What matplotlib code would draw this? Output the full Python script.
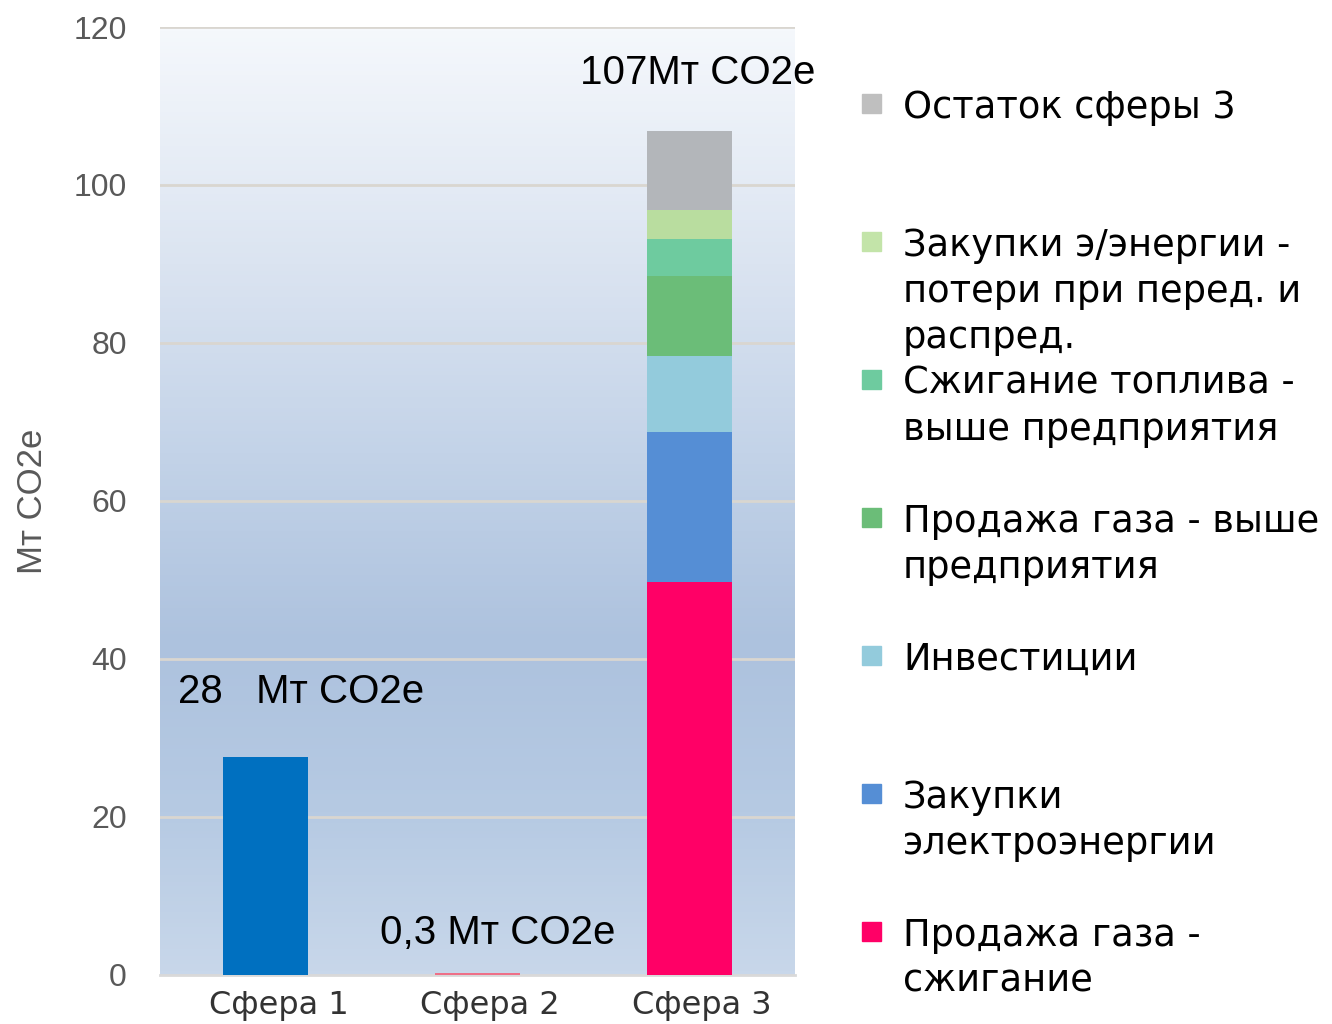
import matplotlib.pyplot as plt
import numpy as np
from matplotlib.colors import LinearSegmentedColormap
from matplotlib.patches import Rectangle

categories = ['Сфера 1', 'Сфера 2', 'Сфера 3']
scope1_value = 27.6
scope2_value = 0.3
scope3_parts = ['Продажа газа -\nсжигание',
                'Закупки\nэлектроэнергии',
                'Инвестиции',
                'Продажа газа - выше\nпредприятия',
                'Сжигание топлива -\nвыше предприятия',
                'Закупки э/энергии -\nпотери при перед. и\nраспред.',
                'Остаток сферы 3']
scope3_values = [49.7, 19.0, 9.7, 10.1, 4.7, 3.6, 10.0]
scope3_colors = ['#ff0066', '#558ed5', '#93cbdc', '#6bbd78', '#6ecb9f', '#b9dd9f', '#b3b6ba']
legend_colors = ['#ff0066', '#558ed5', '#93cbdc', '#6bbd78', '#6ecb9f', '#c3e4a9', '#bfbfbf']
bar_labels = ['28   Мт CO2e', '0,3 Мт CO2e', '107Мт CO2e']
yticks = [0, 20, 40, 60, 80, 100, 120]

W, H = 1332, 1024
fig = plt.figure(figsize=(W / 100, H / 100), dpi=100)
ax = fig.add_axes([160 / W, 1 - 975 / H, 635 / W, 948 / H])

# background gradient of the plot area
bg = LinearSegmentedColormap.from_list('bg', [
    (0.0, '#c8d7ea'), (0.17, '#b6cae3'), (0.35, '#adc2de'),
    (0.55, '#c3d3e8'), (0.75, '#dbe4f1'), (1.0, '#f5f8fc')])
grad = np.linspace(0, 1, 256).reshape(-1, 1)
ax.imshow(grad, extent=[-0.5, 2.5, 0, 120], aspect='auto', cmap=bg,
          origin='lower', zorder=0)

for t in yticks[1:]:
    ax.axhline(t, color='#d9d6d0', lw=2, zorder=1)

x = np.arange(len(categories))
ax.bar(x[0], scope1_value, width=0.4, color='#0070c0', zorder=3)
ax.bar(x[1], scope2_value, width=0.4, color='#ee7088', zorder=3)
bottom = 0
for v, c in zip(scope3_values, scope3_colors):
    ax.bar(x[2], v, width=0.4, bottom=bottom, color=c, zorder=3)
    bottom += v

ax.set_xlim(-0.5, 2.5)
ax.set_ylim(0, 120)
# category labels sit a little right of the bar centres, as in the original
ax.set_xticks(x + 0.06)
ax.set_xticklabels(categories, fontsize=23, color='#333333', family='DejaVu Sans')
ax.set_yticks(yticks)
ax.set_yticklabels([str(t) for t in yticks], fontsize=23, color='#595959',
                   family='Liberation Sans')
ax.tick_params(axis='both', length=0)
ax.tick_params(axis='y', pad=24)
ax.tick_params(axis='x', pad=11)
for s in ['left', 'right', 'top']:
    ax.spines[s].set_visible(False)
ax.spines['bottom'].set_color('#d9d9d9')
ax.spines['bottom'].set_linewidth(2)
ax.set_ylabel('Мт CO2e', fontsize=25, color='#595959', family='Liberation Sans')
ax.yaxis.set_label_coords(-0.175, 0.5)

# value labels
lab_font = dict(fontsize=29, color='black', family='Liberation Sans', zorder=5)
ax.text(-0.415, 35.8, bar_labels[0], ha='left', va='center', **lab_font)
ax.text(0.54, 5.3, bar_labels[1], ha='left', va='center', **lab_font)
ax.text(2.04, 114.2, bar_labels[2], ha='center', va='center', clip_on=False, **lab_font)

# legend on the right, top to bottom
for k, (lab, col) in enumerate(zip(scope3_parts[::-1], legend_colors[::-1])):
    y0 = 107 + 138 * k
    fig.patches.append(Rectangle((862 / W, 1 - (y0 + 6) / H), 19 / W, 19 / H,
                                 transform=fig.transFigure, color=col))
    for j, line in enumerate(lab.split('\n')):
        fig.text(903 / W, 1 - (y0 + 46 * j) / H, line, ha='left', va='center',
                 fontsize=26.5, color='black', family='DejaVu Sans')

fig.savefig('out.png', dpi=100)
